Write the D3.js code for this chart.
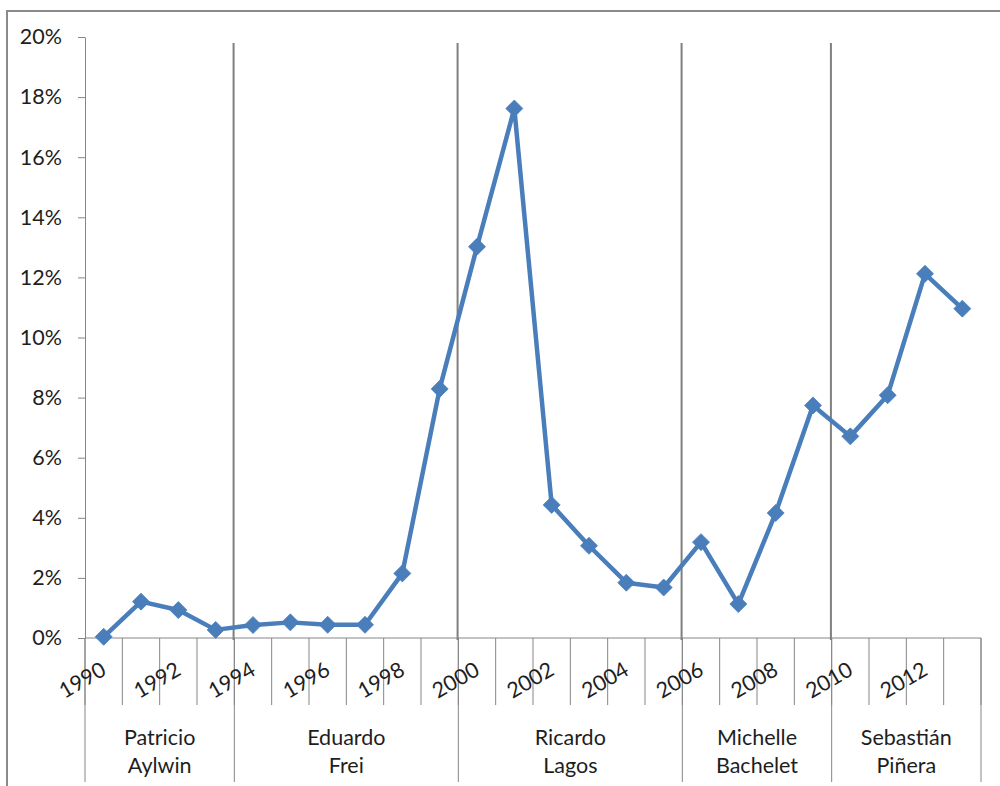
<!DOCTYPE html>
<html>
<head>
<meta charset="utf-8">
<script src="https://cdn.jsdelivr.net/npm/d3@7"></script>
<style>
  html, body { margin: 0; padding: 0; background: #fff; }
  svg { display: block; }
  text { font-family: Lato, "Open Sans", sans-serif; fill: #1e1e1e; }
</style>
</head>
<body>
<svg id="chart" width="1000" height="786"></svg>
<script>
// ---- data ----
const years = ["1990","1991","1992","1993","1994","1995","1996","1997","1998","1999","2000","2001",
               "2002","2003","2004","2005","2006","2007","2008","2009","2010","2011","2012","2013"];
const values = [0.0004, 0.0121, 0.0093, 0.0027, 0.0043, 0.0052, 0.0044, 0.0044, 0.0215, 0.0829, 0.1302, 0.1762,
                0.0443, 0.0307, 0.0184, 0.0168, 0.0319, 0.0113, 0.0416, 0.0774, 0.0671, 0.0808, 0.1212, 0.1096];
const yearTickLabels = ["1990","1992","1994","1996","1998","2000","2002","2004","2006","2008","2010","2012"];
const yTicks = [0, 0.02, 0.04, 0.06, 0.08, 0.10, 0.12, 0.14, 0.16, 0.18, 0.20];
const presidentLine1 = ["Patricio", "Eduardo", "Ricardo", "Michelle", "Sebastián"];
const presidentLine2 = ["Aylwin", "Frei", "Lagos", "Bachelet", "Piñera"];
const presidentStart = ["1990", "1994", "2000", "2006", "2010"];
const presidentEnd   = ["1993", "1999", "2005", "2009", "2013"];

// ---- layout ----
const svg = d3.select("#chart");
const plotL = 85, plotR = 981, plotT = 37, plotB = 638;
const axisColor = "#868686";

// outer frame
svg.append("rect").attr("x", 7).attr("y", 11).attr("width", 1100).attr("height", 900)
  .attr("fill", "none").attr("stroke", "#8a8a8a").attr("stroke-width", 2);

const x = d3.scaleBand().domain(years).range([plotL, plotR]).padding(0);
const y = d3.scaleLinear().domain([0, 0.2]).range([plotB, plotT]);
const cx = d => x(d) + x.bandwidth() / 2;

// y axis
const yAxis = d3.axisLeft(y).tickValues(yTicks).tickFormat(d3.format(".0%"))
  .tickSize(7).tickPadding(16).tickSizeOuter(0);
const gy = svg.append("g").attr("transform", `translate(${plotL},0)`).call(yAxis);
gy.select(".domain").attr("stroke", axisColor);
gy.selectAll(".tick line").attr("stroke", axisColor);
gy.selectAll(".tick text").attr("font-size", "21.5px").attr("fill", "#1e1e1e")
  .attr("font-family", "Lato, sans-serif");

// x axis baseline
svg.append("line").attr("x1", plotL).attr("x2", plotR).attr("y1", y(0)).attr("y2", y(0))
  .attr("stroke", axisColor).attr("stroke-width", 1);

// category tick marks at boundaries
const boundaries = years.map(d => x(d)).concat([x(years[years.length - 1]) + x.bandwidth()]);
svg.append("g").selectAll("line").data(boundaries).join("line")
  .attr("x1", d => d).attr("x2", d => d)
  .attr("y1", y(0)).attr("y2", 705)
  .attr("stroke", axisColor).attr("stroke-width", 1);

// group separators below axis
const groupBounds = presidentStart.map(s => x(s)).concat([x(presidentEnd[presidentEnd.length - 1]) + x.bandwidth()]);
svg.append("g").selectAll("line").data(groupBounds).join("line")
  .attr("x1", d => d).attr("x2", d => d)
  .attr("y1", y(0)).attr("y2", 782)
  .attr("stroke", axisColor).attr("stroke-width", 1);

// separator lines inside plot (term changes)
svg.append("g").selectAll("line").data(presidentStart.slice(1)).join("line")
  .attr("x1", d => x(d) - 0.75).attr("x2", d => x(d) - 0.75)
  .attr("y1", 43).attr("y2", y(0) + 2)
  .attr("stroke", "#7f7f7f").attr("stroke-width", 2);

// year labels
svg.append("g").selectAll("text").data(yearTickLabels).join("text")
  .attr("transform", d => `translate(${cx(d) + 4},${674}) rotate(-30)`)
  .attr("text-anchor", "end")
  .attr("font-size", "21.5px")
  .text(d => d);

// president labels
const pg = svg.append("g").selectAll("text").data(presidentLine1).join("text")
  .attr("x", (d, i) => (x(presidentStart[i]) + x(presidentEnd[i]) + x.bandwidth()) / 2)
  .attr("y", 745)
  .attr("text-anchor", "middle")
  .attr("font-size", "21.5px");
pg.append("tspan").text(d => d);
pg.append("tspan")
  .attr("x", (d, i) => (x(presidentStart[i]) + x(presidentEnd[i]) + x.bandwidth()) / 2)
  .attr("dy", 27.5)
  .text((d, i) => presidentLine2[i]);

// series line
const blue = "#4a7ebb";
svg.append("path").datum(values)
  .attr("fill", "none").attr("stroke", blue).attr("stroke-width", 4.5)
  .attr("stroke-linejoin", "round")
  .attr("d", d3.line().x((d, i) => cx(years[i])).y(d => y(d)));

// diamond markers
svg.append("g").selectAll("path").data(values).join("path")
  .attr("transform", (d, i) => `translate(${cx(years[i])},${y(d)})`)
  .attr("d", "M0,-8.5L8.5,0L0,8.5L-8.5,0Z")
  .attr("fill", blue).attr("stroke", blue).attr("stroke-width", 0.8);
</script>
</body>
</html>
